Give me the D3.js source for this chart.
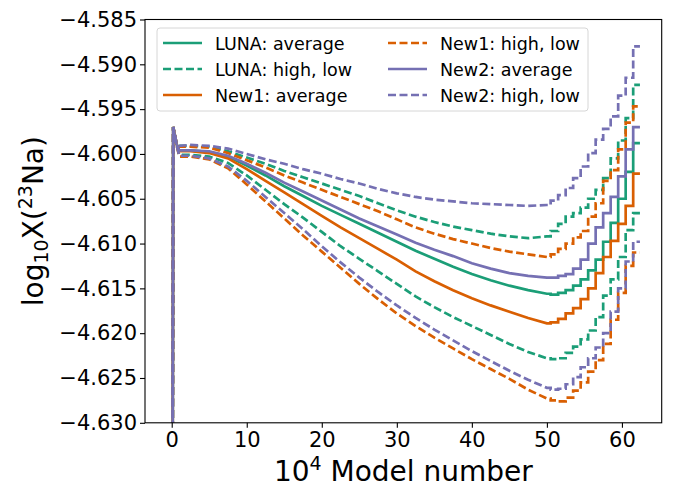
<!DOCTYPE html>
<html>
<head>
<meta charset="utf-8">
<script src="https://cdn.jsdelivr.net/npm/d3@7/dist/d3.min.js"></script>
<style>
  body { margin: 0; background: #fff; }
  text { font-family: "DejaVu Sans", sans-serif; }
</style>
</head>
<body>
<div id="chart"></div>
<script>
// model number in units of 10^4 (smooth part up to 50, staircase part after)
var modelNum = [0.1, 0.2, 0.6, 1, 2.5, 5, 7.5, 10, 12.5, 15, 17.5, 20, 22.5, 25, 27.5, 30,
  32.5, 35, 37.5, 40, 42.5, 45, 47.5, 50,
  51, 52, 53, 54, 55, 56, 57, 58, 59, 60, 61, 62, 62.4];

// log10 X(23Na)
var lunaAvg = [-4.65, -4.5970, -4.5988, -4.5996, -4.5996, -4.5998, -4.6003, -4.6013, -4.6024, -4.6036, -4.6047, -4.6058,
  -4.6068, -4.6078, -4.6088, -4.6098, -4.6108, -4.6117, -4.6126, -4.6134, -4.6141, -4.6147, -4.6152, -4.6156,
  -4.6157, -4.6155, -4.6152, -4.6147, -4.6140, -4.6130, -4.6118, -4.6098, -4.6077, -4.6050, -4.6020, -4.5988, -4.5988];
var lunaHigh = [-4.65, -4.5970, -4.5986, -4.5991, -4.5991, -4.5992, -4.5997, -4.6004, -4.6011, -4.6019, -4.6026, -4.6033,
  -4.6040, -4.6047, -4.6055, -4.6063, -4.6070, -4.6076, -4.6081, -4.6085, -4.6089, -4.6092, -4.6094, -4.6092,
  -4.6086, -4.6078, -4.6070, -4.6066, -4.6060, -4.6050, -4.6040, -4.6027, -4.6005, -4.5985, -4.5960, -4.5923, -4.5923];
var lunaLow = [-4.65, -4.5970, -4.5988, -4.6001, -4.6001, -4.6003, -4.6010, -4.6024, -4.6040, -4.6056, -4.6071, -4.6087,
  -4.6103, -4.6117, -4.6131, -4.6145, -4.6159, -4.6171, -4.6182, -4.6192, -4.6202, -4.6212, -4.6221, -4.6228,
  -4.6229, -4.6228, -4.6222, -4.6215, -4.6207, -4.6197, -4.6182, -4.6158, -4.6140, -4.6115, -4.6085, -4.6066, -4.6066];
var new1Avg = [-4.65, -4.5970, -4.5988, -4.5997, -4.5997, -4.5999, -4.6005, -4.6017, -4.6030, -4.6043, -4.6056, -4.6069,
  -4.6082, -4.6094, -4.6106, -4.6118, -4.6131, -4.6142, -4.6152, -4.6161, -4.6169, -4.6176, -4.6183, -4.6189,
  -4.6188, -4.6184, -4.6178, -4.6172, -4.6162, -4.6150, -4.6133, -4.6115, -4.6097, -4.6078, -4.6058, -4.6022, -4.6022];
var new1High = [-4.65, -4.5970, -4.5986, -4.5992, -4.5992, -4.5993, -4.5999, -4.6007, -4.6015, -4.6024, -4.6032, -4.6040,
  -4.6048, -4.6056, -4.6064, -4.6073, -4.6082, -4.6089, -4.6095, -4.6100, -4.6105, -4.6109, -4.6112, -4.6115,
  -4.6112, -4.6106, -4.6100, -4.6093, -4.6086, -4.6070, -4.6055, -4.6030, -4.6018, -4.5995, -4.5965, -4.5947, -4.5947];
var new1Low = [-4.65, -4.5970, -4.5988, -4.6003, -4.6003, -4.6006, -4.6016, -4.6034, -4.6053, -4.6072, -4.6091, -4.6109,
  -4.6127, -4.6145, -4.6162, -4.6178, -4.6192, -4.6205, -4.6217, -4.6229, -4.6240, -4.6251, -4.6263, -4.6273,
  -4.6275, -4.6276, -4.6272, -4.6264, -4.6255, -4.6243, -4.6230, -4.6212, -4.6185, -4.6155, -4.6125, -4.6110, -4.6110];
var new2Avg = [-4.65, -4.5970, -4.5988, -4.5996, -4.5996, -4.5997, -4.6002, -4.6011, -4.6021, -4.6032, -4.6042, -4.6052,
  -4.6062, -4.6072, -4.6081, -4.6090, -4.6099, -4.6107, -4.6114, -4.6122, -4.6128, -4.6133, -4.6136, -4.6138,
  -4.6138, -4.6136, -4.6134, -4.6128, -4.6118, -4.6100, -4.6082, -4.6066, -4.6048, -4.6025, -4.5995, -4.5970, -4.5970];
var new2High = [-4.65, -4.5970, -4.5986, -4.5991, -4.5990, -4.5991, -4.5994, -4.6000, -4.6006, -4.6011, -4.6017, -4.6022,
  -4.6028, -4.6033, -4.6039, -4.6044, -4.6048, -4.6051, -4.6053, -4.6055, -4.6056, -4.6057, -4.6058, -4.6057,
  -4.6052, -4.6046, -4.6038, -4.6027, -4.6014, -4.5999, -4.5984, -4.5972, -4.5958, -4.5935, -4.5915, -4.5880, -4.5880];
var new2Low = [-4.65, -4.5970, -4.5988, -4.6002, -4.6002, -4.6005, -4.6014, -4.6030, -4.6048, -4.6066, -4.6084, -4.6103,
  -4.6121, -4.6138, -4.6154, -4.6169, -4.6183, -4.6196, -4.6208, -4.6220, -4.6231, -4.6242, -4.6252, -4.6261,
  -4.6263, -4.6262, -4.6257, -4.6249, -4.6238, -4.6228, -4.6216, -4.6200, -4.6176, -4.6150, -4.6120, -4.6098, -4.6098];

var legendLabels = ["LUNA: average", "LUNA: high, low", "New1: average",
  "New1: high, low", "New2: average", "New2: high, low"];
var xTicks = [0, 10, 20, 30, 40, 50, 60];
var yTicks = [-4.630, -4.625, -4.620, -4.615, -4.610, -4.605, -4.600, -4.595, -4.590, -4.585];

var green = "#1b9e77", orange = "#d95f02", purple = "#7570b3";

// drawing order: purple ends up on top
var series = [
  { values: lunaAvg, color: green, dashed: false },
  { values: lunaHigh, color: green, dashed: true },
  { values: lunaLow, color: green, dashed: true },
  { values: new1Avg, color: orange, dashed: false },
  { values: new1High, color: orange, dashed: true },
  { values: new1Low, color: orange, dashed: true },
  { values: new2Avg, color: purple, dashed: false },
  { values: new2High, color: purple, dashed: true },
  { values: new2Low, color: purple, dashed: true }
];
var legendItems = [
  { label: legendLabels[0], color: green, dashed: false },
  { label: legendLabels[1], color: green, dashed: true },
  { label: legendLabels[2], color: orange, dashed: false },
  { label: legendLabels[3], color: orange, dashed: true },
  { label: legendLabels[4], color: purple, dashed: false },
  { label: legendLabels[5], color: purple, dashed: true }
];

var W = 678, H = 487;
var box = { left: 145, right: 661.7, top: 19.5, bottom: 422.8 };
var dash = "8,3.5";

var x = d3.scaleLinear().domain([-3.56, 65.3]).range([box.left, box.right]);
var y = d3.scaleLinear().domain([-4.630, -4.585]).range([box.bottom, box.top]);

var svg = d3.select("#chart").append("svg")
  .attr("width", W)
  .attr("height", H);

svg.append("clipPath").attr("id", "clip")
  .append("rect")
  .attr("x", box.left).attr("y", box.top)
  .attr("width", box.right - box.left).attr("height", box.bottom - box.top);

var plot = svg.append("g").attr("clip-path", "url(#clip)");

var smooth = d3.line().x(function (d) { return x(d[0]); }).y(function (d) { return y(d[1]); });
var stairs = d3.line().curve(d3.curveStep).x(function (d) { return x(d[0]); }).y(function (d) { return y(d[1]); });
var split = modelNum.indexOf(50);

series.forEach(function (s) {
  var pts = modelNum.map(function (u, i) { return [u, s.values[i]]; });
  var d = smooth(pts.slice(0, split + 1)) + stairs(pts.slice(split)).replace(/^M/, "L");
  plot.append("path")
    .attr("d", d)
    .attr("fill", "none")
    .attr("stroke", s.color)
    .attr("stroke-width", 2.7)
    .attr("stroke-dasharray", s.dashed ? dash : null);
});

// axes
var yAxis = svg.append("g")
  .attr("transform", "translate(" + box.left + ",0)")
  .call(d3.axisLeft(y).tickValues(yTicks).tickFormat(d3.format(".3f")).tickSize(5).tickPadding(3));
var xAxis = svg.append("g")
  .attr("transform", "translate(0," + box.bottom + ")")
  .call(d3.axisBottom(x).tickValues(xTicks).tickFormat(d3.format("d")).tickSize(5).tickPadding(4));

[xAxis, yAxis].forEach(function (a) {
  a.select(".domain").remove();
  a.selectAll("text").attr("font-size", 21).attr("font-family", "DejaVu Sans").attr("fill", "#000");
  a.selectAll("line").attr("stroke", "#000").attr("stroke-width", 1.1);
});

svg.append("rect")
  .attr("x", box.left).attr("y", box.top)
  .attr("width", box.right - box.left).attr("height", box.bottom - box.top)
  .attr("fill", "none").attr("stroke", "#000").attr("stroke-width", 1.1);

// axis titles
var xt = svg.append("text")
  .attr("x", (box.left + box.right) / 2).attr("y", 481)
  .attr("text-anchor", "middle").attr("font-size", 28);
xt.append("tspan").text("10");
xt.append("tspan").attr("font-size", 19).attr("dy", -11).text("4");
xt.append("tspan").attr("dy", 11).text(" Model number");

var yt = svg.append("text")
  .attr("transform", "translate(43," + ((box.top + box.bottom) / 2) + ") rotate(-90)")
  .attr("text-anchor", "middle").attr("font-size", 28);
yt.append("tspan").text("log");
yt.append("tspan").attr("font-size", 19).attr("dy", 5).text("10");
yt.append("tspan").attr("dy", -5).text("X(");
yt.append("tspan").attr("font-size", 19).attr("dy", -11).text("23");
yt.append("tspan").attr("dy", 11).text("Na)");

// legend
var leg = svg.append("g");
leg.append("rect")
  .attr("x", 157).attr("y", 28).attr("width", 431).attr("height", 83)
  .attr("rx", 3).attr("fill", "#fff").attr("fill-opacity", 0.8)
  .attr("stroke", "#d6d6d6").attr("stroke-width", 1);

legendItems.forEach(function (it, i) {
  var col = Math.floor(i / 3), row = i % 3;
  var lx = 163 + col * 225, ly = 43 + row * 26;
  leg.append("line")
    .attr("x1", lx).attr("x2", lx + 39).attr("y1", ly).attr("y2", ly)
    .attr("stroke", it.color).attr("stroke-width", 2.7)
    .attr("stroke-dasharray", it.dashed ? dash : null);
  leg.append("text")
    .attr("x", lx + 52).attr("y", ly + 6.5)
    .attr("font-size", 17.5).text(it.label);
});
</script>
</body>
</html>
